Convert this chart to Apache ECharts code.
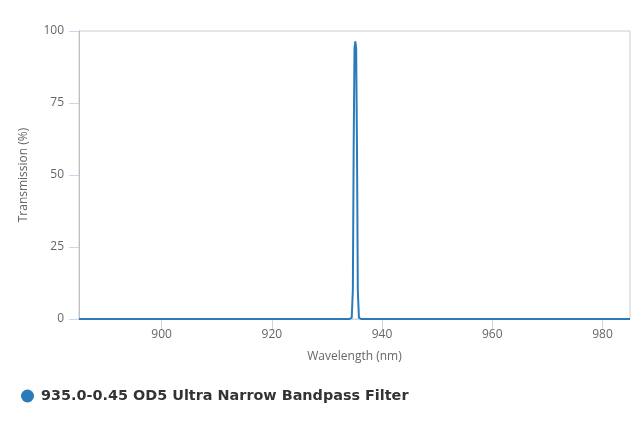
<!DOCTYPE html>
<html lang="en">
<head>
    <meta charset="UTF-8">
    <title>935.0-0.45 OD5 Ultra Narrow Bandpass Filter</title>
    <style>
        html, body { margin: 0; padding: 0; background: #fff; }
        #chart { width: 640px; height: 427px; }
    </style>
</head>
<body>
    <div id="chart"></div>
</body>
<script src="https://cdn.jsdelivr.net/npm/echarts@6.0.0/dist/echarts.min.js"></script>
<script>
// 数据
var seriesName = '935.0-0.45 OD5 Ultra Narrow Bandpass Filter';
var wavelength = [885, 934.1, 934.5, 934.7, 934.85, 935.0, 935.15, 935.3, 935.45, 935.6, 935.8, 936.2, 985];
var transmission = [0, 0, 0.5, 10, 60, 94, 96.4, 94, 60, 10, 0.5, 0, 0];
var xTicks = [900, 920, 940, 960, 980];
var yTicks = [0, 25, 50, 75, 100];

var chart = echarts.init(document.getElementById('chart'));
var points = wavelength.map(function (w, i) { return [w, transmission[i]]; });
var labelFont = { color: '#666', fontSize: 12, fontFamily: 'Open Sans' };

var option = {
    animation: false,
    grid: {
        left: 79,
        right: 10,
        top: 31,
        bottom: 108,
        show: true,
        borderColor: '#cccccc',
        borderWidth: 1
    },
    legend: {
        data: [seriesName],
        left: 21,
        top: 389,
        padding: 0,
        icon: 'circle',
        itemWidth: 13,
        itemHeight: 13,
        textStyle: {
            color: '#333',
            fontSize: 14.4,
            fontWeight: 'bold',
            fontFamily: 'DejaVu Sans',
            padding: [0, 0, 0, 2]
        }
    },
    xAxis: {
        type: 'value',
        min: 885,
        max: 985,
        name: 'Wavelength (nm)',
        nameLocation: 'middle',
        nameGap: 32,
        nameTextStyle: labelFont,
        axisLine: { show: true, lineStyle: { color: '#ccd6eb' } },
        axisTick: { show: true, length: 10, customValues: xTicks, lineStyle: { color: '#ccd6eb' } },
        axisLabel: Object.assign({ margin: 10, customValues: xTicks }, labelFont),
        splitLine: { show: false }
    },
    yAxis: {
        type: 'value',
        min: 0,
        max: 100,
        interval: 25,
        name: 'Transmission (%)',
        nameLocation: 'middle',
        nameGap: 49,
        nameTextStyle: labelFont,
        axisLine: { show: true, lineStyle: { color: '#c0c0c0' } },
        axisTick: { show: true, length: 10, lineStyle: { color: '#ccd6eb' } },
        axisLabel: Object.assign({ margin: 15 }, labelFont),
        splitLine: { show: false }
    },
    series: [
        {
            name: seriesName,
            type: 'line',
            data: points,
            symbol: 'none',
            color: '#2b7bba',
            lineStyle: { width: 2, color: '#2b7bba' }
        }
    ]
};
chart.setOption(option);
</script>
</html>
